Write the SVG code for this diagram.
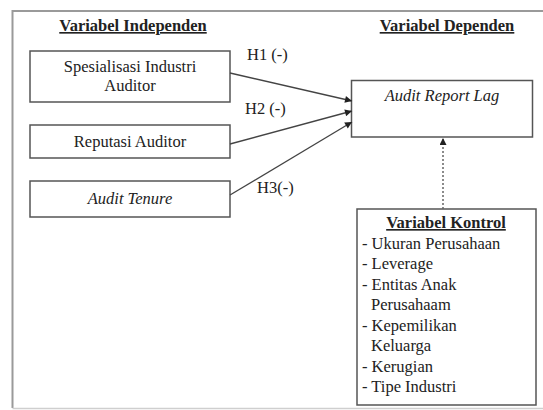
<svg xmlns="http://www.w3.org/2000/svg" width="543" height="410" viewBox="0 0 543 410">
<defs>
<style>
text{font-family:"Liberation Serif","Times New Roman",serif;font-size:16.5px;fill:#222}
.t{font-weight:bold;text-decoration:underline}
.c{text-anchor:middle}
.i{font-style:italic}
.box{fill:#fff;stroke:#555;stroke-width:1.5}
.con{fill:none;stroke:#444;stroke-width:1.3}
.dot{fill:none;stroke:#666;stroke-width:1.5;stroke-dasharray:2 2}
</style>
<marker id="ah" viewBox="0 0 10 10" refX="10" refY="5" markerWidth="8" markerHeight="7" markerUnits="userSpaceOnUse" orient="auto">
<path d="M0,0 L10,5 L0,10 z" fill="#222"/>
</marker>
</defs>
<rect width="543" height="410" fill="#fff"/>
<path d="M545 11 H12.5 V408" fill="none" stroke="#9a9a9a" stroke-width="2"/>
<path d="M12.5 408.5 H545" fill="none" stroke="#cfcfcf" stroke-width="1.5"/>
<text class="t c" x="133" y="31">Variabel Independen</text>
<text class="t c" x="447" y="31">Variabel Dependen</text>
<g id="spesialisasi">
<rect class="box" x="30" y="51" width="200" height="51"/>
<text class="c" x="130" y="72">Spesialisasi Industri</text>
<text class="c" x="130" y="91">Auditor</text>
</g>
<g id="reputasi">
<rect class="box" x="30" y="125" width="200" height="33"/>
<text class="c" x="130" y="147">Reputasi Auditor</text>
</g>
<g id="tenure">
<rect class="box" x="30" y="181" width="200" height="36"/>
<text class="c i" x="130" y="204">Audit Tenure</text>
</g>
<g id="reportlag">
<rect class="box" x="351.5" y="80.5" width="181" height="56.5"/>
<text class="c i" x="442" y="101">Audit Report Lag</text>
</g>
<g id="kontrol">
<rect class="box" x="357" y="209" width="179" height="196"/>
<text class="t c" x="446" y="228">Variabel Kontrol</text>
<text x="362" y="248.5">- Ukuran Perusahaan</text>
<text x="362" y="269">- Leverage</text>
<text x="362" y="289.5">- Entitas Anak</text>
<text x="371" y="310">Perusahaam</text>
<text x="362" y="330.5">- Kepemilikan</text>
<text x="371" y="351">Keluarga</text>
<text x="362" y="371.5">- Kerugian</text>
<text x="362" y="392">- Tipe Industri</text>
</g>
<g id="connectors">
<line class="con" x1="230" y1="73" x2="352" y2="101" marker-end="url(#ah)"/>
<line class="con" x1="230" y1="144" x2="352" y2="111" marker-end="url(#ah)"/>
<line class="con" x1="230" y1="195" x2="352" y2="122" marker-end="url(#ah)"/>
<line class="dot" x1="443" y1="209" x2="443" y2="138" marker-end="url(#ah)"/>
<text x="247" y="60">H1 (-)</text>
<text x="245" y="114">H2 (-)</text>
<text x="257" y="193">H3(-)</text>
</g>
</svg>
